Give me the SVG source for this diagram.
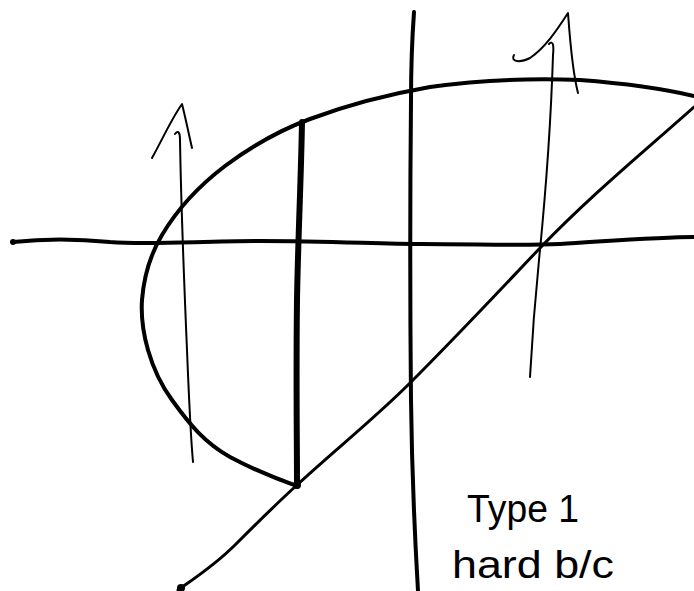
<svg xmlns="http://www.w3.org/2000/svg" width="694" height="591" viewBox="0 0 694 591">
<style>
.ink{fill:none;stroke:#000;stroke-linecap:round;stroke-linejoin:round}
.axis{stroke-width:4}
.curve{stroke-width:4}
.bold{stroke-width:6}
.diag{stroke-width:3}
.thin{stroke-width:2}
.txt{font-family:"Liberation Sans","DejaVu Sans",sans-serif;font-size:38px;fill:#000}
</style>
<rect width="694" height="591" fill="#fff"/>
<g id="axes">
<path class="ink axis" d="M13,242 C40,239 70,238 110,242 C150,245 200,241 260,241 C330,241 380,244 420,244 C480,244 520,246 560,244 C610,241 660,237 694,237"/>
<circle cx="13" cy="242" r="3"/>
<path class="ink axis" d="M414,12 C412,40 411,70 411,100 C410,200 410,300 411,400 C412,480 415,540 418,591"/>
</g>
<g id="region-curve">
<path class="ink curve" d="M297,486 C280,480 260,473 230,457 C205,443 190,425 172,400 C150,370 140,330 142,300 C144,275 150,255 162,235 C178,208 200,185 225,166 C252,146 280,130 310,119 C350,104 390,94 430,87 C480,80 530,78 580,80 C620,83 660,88 694,96"/>
</g>
<g id="diagonal">
<path class="ink diag" d="M178,590 C195,578 215,565 235,545 C255,525 275,505 297,485 C335,450 375,418 410,383 C460,333 500,290 540,248 C590,196 640,155 694,107"/>
<circle cx="181" cy="588" r="4"/>
<circle cx="297" cy="485" r="4"/>
</g>
<g id="slice">
<path class="ink bold" d="M302,122 C301,180 298,240 297,300 C296,380 297,440 297,486"/>
</g>
<g id="arrow-left">
<path class="ink thin" d="M175,134 C178,130 180,132 180,140 C181,200 184,280 187,350 C189,400 191,440 193,462"/>
<path class="ink thin" d="M152,158 C162,140 172,118 182,104 C186,120 189,135 192,148"/>
</g>
<g id="arrow-right">
<path class="ink thin" d="M549,44 C553,40 554,45 553,55 C551,120 545,200 539,260 C535,300 532,340 530,377"/>
<path class="ink thin" d="M514,55 C510,62 520,63 530,58 C545,48 557,30 568,13 C570,40 572,70 578,93"/>
</g>
<g id="note">
<text class="txt" x="467" y="522" textLength="112" lengthAdjust="spacingAndGlyphs">Type 1</text>
<text class="txt" x="452" y="578" textLength="162" lengthAdjust="spacingAndGlyphs">hard b/c</text>
</g>
</svg>
